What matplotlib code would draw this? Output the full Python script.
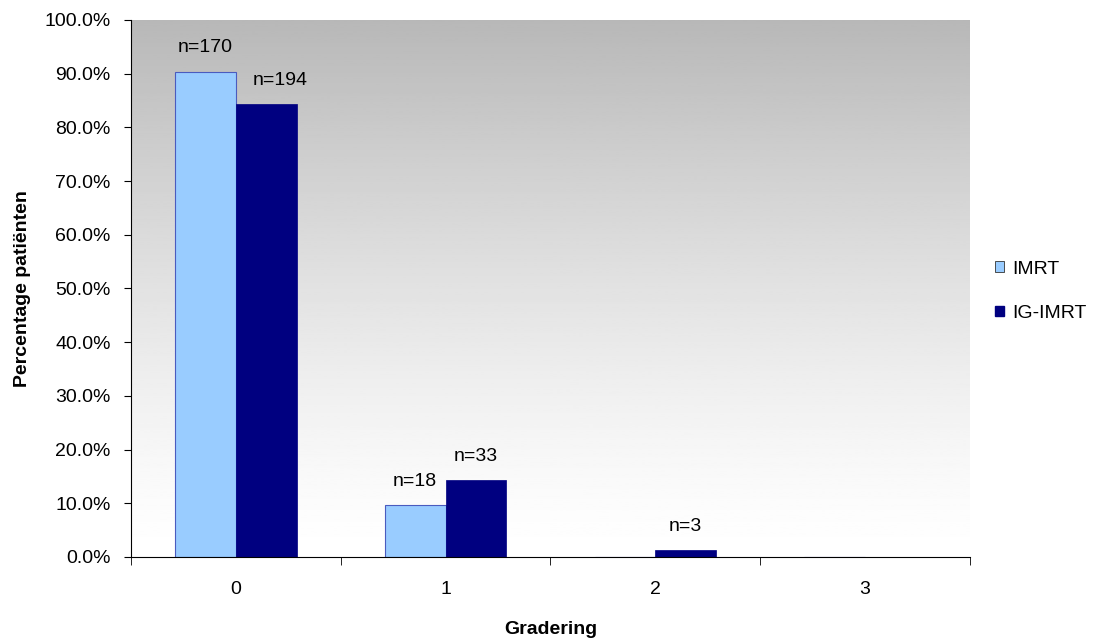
import numpy as np
import matplotlib.pyplot as plt
from matplotlib.patches import Patch
from matplotlib.ticker import PercentFormatter

plt.rcParams['font.family'] = ['Liberation Sans', 'DejaVu Sans']

# gradering per groep, percentage patiënten
categories = ['0', '1', '2', '3']
imrt = [90.4, 9.6, 0.0, 0.0]
ig_imrt = [84.3, 14.3, 1.3, 0.0]
imrt_n = ['n=170', 'n=18', '', '']
ig_imrt_n = ['n=194', 'n=33', 'n=3', '']

FS = 14

fig = plt.figure(figsize=(10.95, 6.4), dpi=100)
ax = fig.add_axes([0.1196, 0.1297, 0.7662, 0.8391])

# grijze verloop-achtergrond (donker boven, wit onder)
t = np.linspace(0, 1, 256)
grad = (1.0 - 0.28 * t ** 1.3).reshape(-1, 1)
ax.imshow(grad, cmap='gray', vmin=0, vmax=1, aspect='auto',
          extent=(-0.5, 3.5, 0, 100), origin='lower', zorder=0)

x = np.arange(len(categories))
w = 0.29
b1 = ax.bar(x - w / 2, imrt, w, color='#99CCFF', edgecolor='#4a5bbf',
            linewidth=0.8, zorder=2, label='IMRT')
b2 = ax.bar(x + w / 2, ig_imrt, w, color='#000080', edgecolor='#000080',
            linewidth=0.5, zorder=2, label='IG-IMRT')

for bars, labels in ((b1, imrt_n), (b2, ig_imrt_n)):
    for bar, lab in zip(bars, labels):
        if not lab:
            continue
        dx = 10 if lab == 'n=194' else 0
        ax.annotate(lab, (bar.get_x() + bar.get_width() / 2, bar.get_height()),
                    xytext=(dx, 17), textcoords='offset points',
                    ha='center', va='center', fontsize=FS)

ax.set_xlim(-0.5, 3.5)
ax.set_ylim(0, 100)
ax.set_yticks(np.arange(0, 101, 10))
ax.yaxis.set_major_formatter(PercentFormatter(decimals=1))
ax.set_xticks(x)
ax.set_xticklabels(categories)
ax.set_xticks(np.arange(-0.5, 3.6, 1), minor=True)
ax.tick_params(axis='x', which='major', length=0, pad=17, labelsize=FS)
ax.tick_params(axis='x', which='minor', length=6, direction='out')
ax.tick_params(axis='y', length=5, direction='out', pad=9.5, labelsize=FS)

for side in ('top', 'right'):
    ax.spines[side].set_visible(False)

ax.set_xlabel('Gradering', fontsize=FS, fontweight='bold', labelpad=17)
ax.set_ylabel('Percentage patiënten', fontsize=FS, fontweight='bold', labelpad=10)

handles = [Patch(facecolor='#99CCFF', edgecolor='#333333', linewidth=0.6),
           Patch(facecolor='#000080', edgecolor='#000080')]
fig.legend(handles, ['IMRT', 'IG-IMRT'], loc='center left',
           bbox_to_anchor=(0.893, 0.545), frameon=False, fontsize=FS,
           handlelength=0.45, handleheight=0.45, handletextpad=0.4,
           labelspacing=1.4)

fig.savefig('out.png', dpi=100)
